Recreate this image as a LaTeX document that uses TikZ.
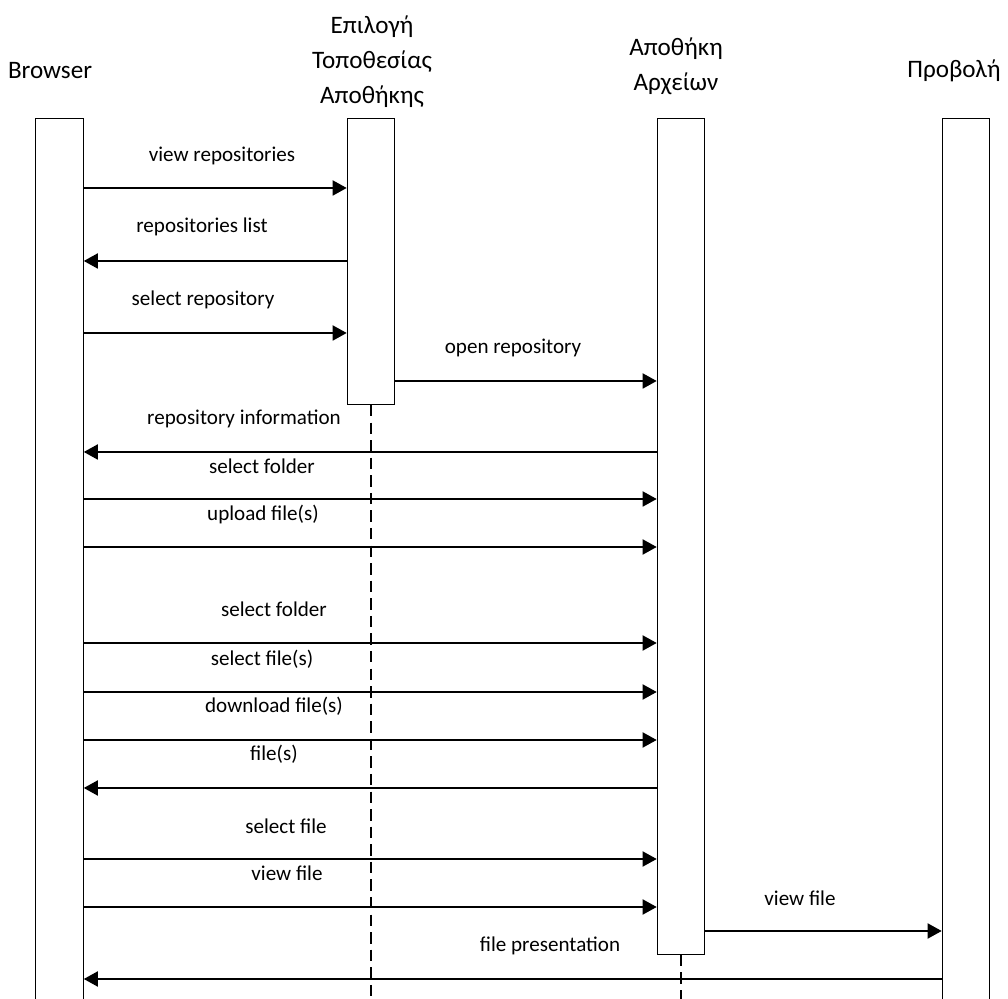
\documentclass[tikz,border=0pt]{standalone}
\usepackage{fontspec}
\setmainfont{Carlito}
\usepackage{tikz}
\usetikzlibrary{positioning, arrows.meta, calc}
\definecolor{ink}{HTML}{000000}
\tikzset{
  lifebox/.style={draw=ink, line width=0.6pt, fill=white, anchor=north, minimum width=0.95cm, inner sep=0pt},
  lifeline/.style={draw=ink, line width=0.6pt, dash pattern=on 6.5pt off 3.5pt},
  msg/.style={-{Triangle[length=8pt, width=8.5pt]}, line width=1.2pt, draw=ink},
  actor/.style={font=\fontsize{14.3}{19.9}\selectfont, align=center, inner sep=0pt, text=ink},
  lbl/.style={font=\fontsize{12}{14}\selectfont, inner sep=0pt, text=ink},
}
\begin{document}
\begin{tikzpicture}[x=0.02cm, y=-0.02cm]
  \useasboundingbox (0,0) rectangle (1008,999);
  \clip (0,0) rectangle (1008,999);

  % Actors
  \node[actor] (tbrowser) at (50,71) {Browser};
  \node[actor] (tsel) at (372,62) {Επιλογή\\Τοποθεσίας\\Αποθήκης};
  \node[actor] (tarc) at (676,66) {Αποθήκη\\Αρχείων};
  \node[actor] (tview) at (954,71) {Προβολή};

  % Lifeline boxes
  \node[lifebox, minimum height=18.04cm] (browser) at (59.5,118) {};
  \node[lifebox, minimum height=5.72cm] (sel) at (371,118) {};
  \node[lifebox, minimum height=16.72cm] (arc) at (681,118) {};
  \node[lifebox, minimum height=18.04cm] (view) at (966,118) {};

  % Dashed lifelines
  \coordinate (bottom) at (0,1010);
  \draw[lifeline] (sel.south) -- (sel.south |- bottom);
  \draw[lifeline] (arc.south) -- (arc.south |- bottom);

  % Message rows
  \coordinate (m1) at (0,188);
  \coordinate (m2) at (0,261);
  \coordinate (m3) at (0,333);
  \coordinate (m4) at (0,381);
  \coordinate (m5) at (0,452);
  \coordinate (m6) at (0,499);
  \coordinate (m7) at (0,547);
  \coordinate (m8) at (0,643);
  \coordinate (m9) at (0,692);
  \coordinate (m10) at (0,740);
  \coordinate (m11) at (0,788);
  \coordinate (m12) at (0,859);
  \coordinate (m13) at (0,907);
  \coordinate (m14) at (0,931);
  \coordinate (m15) at (0,979);

  % Messages
  \draw[msg] (browser.east |- m1) -- (sel.west |- m1);
  \draw[msg] (sel.west |- m2) -- (browser.east |- m2);
  \draw[msg] (browser.east |- m3) -- (sel.west |- m3);
  \draw[msg] (sel.east |- m4) -- (arc.west |- m4);
  \draw[msg] (arc.west |- m5) -- (browser.east |- m5);
  \draw[msg] (browser.east |- m6) -- (arc.west |- m6);
  \draw[msg] (browser.east |- m7) -- (arc.west |- m7);
  \draw[msg] (browser.east |- m8) -- (arc.west |- m8);
  \draw[msg] (browser.east |- m9) -- (arc.west |- m9);
  \draw[msg] (browser.east |- m10) -- (arc.west |- m10);
  \draw[msg] (arc.west |- m11) -- (browser.east |- m11);
  \draw[msg] (browser.east |- m12) -- (arc.west |- m12);
  \draw[msg] (browser.east |- m13) -- (arc.west |- m13);
  \draw[msg] (arc.east |- m14) -- (view.west |- m14);
  \draw[msg] (view.west |- m15) -- (browser.east |- m15);

  % Message labels
  \node[lbl] (l1) at (222,156) {view repositories};
  \node[lbl] (l2) at (202,227) {repositories list};
  \node[lbl] (l3) at (203,300) {select repository};
  \node[lbl] (l4) at (513,348) {open repository};
  \node[lbl] (l5) at (244,419) {repository information};
  \node[lbl] (l6) at (262,466) {select folder};
  \node[lbl] (l7) at (263,514) {upload file(s)};
  \node[lbl] (l8) at (274,609) {select folder};
  \node[lbl] (l9) at (262,659) {select file(s)};
  \node[lbl] (l10) at (274,706) {download file(s)};
  \node[lbl] (l11) at (274,754) {file(s)};
  \node[lbl] (l12) at (286,826) {select file};
  \node[lbl] (l13) at (287,873) {view file};
  \node[lbl] (l14) at (800,898) {view file};
  \node[lbl] (l15) at (550,946) {file presentation};
\end{tikzpicture}
\end{document}
